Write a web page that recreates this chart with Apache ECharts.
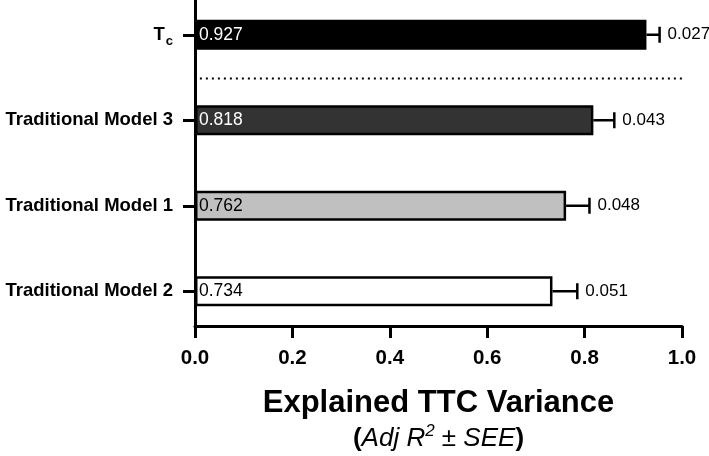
<!DOCTYPE html>
<html>
<head>
<meta charset="utf-8">
<script src="https://cdn.jsdelivr.net/npm/echarts@6/dist/echarts.min.js"></script>
<style>html,body{margin:0;padding:0;background:#fff}#c{width:709px;height:456px}</style>
</head>
<body>
<div id="c"></div>
<script>
// ---- data ----
const categories = ['Tc', 'Traditional Model 3', 'Traditional Model 1', 'Traditional Model 2'];
const values = [0.927, 0.818, 0.762, 0.734];
const errors = [0.027, 0.043, 0.048, 0.051];
const barColors = ['#000000', '#333333', '#c0c0c0', '#ffffff'];
const valueLabelColors = ['#ffffff', '#ffffff', '#000000', '#000000'];
const xMin = 0, xMax = 1.0, xStep = 0.2;
const axisTitle = 'Explained TTC Variance';

const FONT = "'Liberation Sans', Arial, Helvetica, sans-serif";
const chart = echarts.init(document.getElementById('c'), null, {renderer: 'canvas'});

const option = {
  animation: false,
  backgroundColor: '#fff',
  textStyle: {fontFamily: FONT},
  grid: {left: 195, right: 27, top: -8, bottom: 122, outerBoundsMode: 'none', containLabel: false},
  xAxis: {
    type: 'value', min: xMin, max: xMax, interval: xStep,
    offset: -8,
    axisLine: {show: true, lineStyle: {color: '#000', width: 3}},
    axisTick: {show: true, length: 12, lineStyle: {color: '#000', width: 3}},
    axisLabel: {margin: 22, color: '#000', fontWeight: 'bold', fontSize: 20.5, fontFamily: FONT,
      formatter: v => v.toFixed(1)},
    splitLine: {show: false},
    name: '{t|' + axisTitle + '}\n{p|(}{i|Adj R}{sup|2}{n| ± }{i|SEE}{p|)}',
    nameLocation: 'middle', nameGap: 59,
    nameTextStyle: {
      fontFamily: FONT,
      rich: {
        t: {fontSize: 31, fontWeight: 'bold', color: '#000', lineHeight: 36, fontFamily: FONT},
        p: {fontSize: 26, fontWeight: 'bold', color: '#000', lineHeight: 36, fontFamily: FONT},
        i: {fontSize: 26, fontStyle: 'italic', color: '#000', lineHeight: 36, fontFamily: FONT},
        n: {fontSize: 26, color: '#000', lineHeight: 36, fontFamily: FONT},
        sup: {fontSize: 17, fontStyle: 'italic', color: '#000', padding: [0, 0, 15, 0], fontFamily: FONT}
      }
    }
  },
  yAxis: {
    type: 'category', data: categories, inverse: true,
    axisLine: {show: true, lineStyle: {color: '#000', width: 3}},
    axisTick: {show: true, alignWithLabel: true, length: 12, lineStyle: {color: '#000', width: 3}},
    axisLabel: {
      margin: 22, color: '#000', fontWeight: 'bold', fontSize: 18.5, fontFamily: FONT,
      formatter: v => v === 'Tc' ? '{b|T}{s|c}' : v,
      rich: {
        b: {fontSize: 18.5, fontWeight: 'bold', color: '#000', fontFamily: FONT},
        s: {fontSize: 13, fontWeight: 'bold', color: '#000', padding: [14, 0, 0, 1], fontFamily: FONT}
      }
    }
  },
  series: [
    {
      type: 'bar',
      barWidth: 30,
      data: values.map((v, i) => ({
        value: v,
        itemStyle: {color: barColors[i], borderColor: '#000', borderWidth: 2.5},
        label: {color: valueLabelColors[i]}
      })),
      label: {show: true, position: 'insideLeft', distance: 4, fontSize: 17.5, fontFamily: FONT,
        formatter: p => p.value.toFixed(3)},
      z: 2
    },
    {
      type: 'custom',
      data: values.map((v, i) => [i, v, errors[i]]),
      renderItem: (params, api) => {
        const i = api.value(0), v = api.value(1), e = api.value(2);
        const p0 = api.coord([v, i]);
        const p1 = api.coord([v + e, i]);
        return {
          type: 'group',
          children: [
            {type: 'line', shape: {x1: p0[0], y1: p0[1], x2: p1[0], y2: p1[1]},
              style: {stroke: '#000', lineWidth: 2.5}},
            {type: 'line', shape: {x1: p1[0], y1: p1[1] - 8, x2: p1[0], y2: p1[1] + 8},
              style: {stroke: '#000', lineWidth: 2.5}},
            {type: 'text', x: p1[0] + 8, y: p1[1],
              style: {text: e.toFixed(3), fill: '#000', fontSize: 17, fontFamily: FONT,
                verticalAlign: 'middle', align: 'left'}}
          ]
        };
      },
      z: 3
    },
    {
      type: 'custom',
      data: [[0, 1]],
      renderItem: (params, api) => {
        const a = api.coord([0.01, api.value(0)]);
        const b = api.coord([xMax, api.value(1)]);
        const y = (a[1] + b[1]) / 2 + 1;
        return {type: 'line', shape: {x1: a[0], y1: y, x2: b[0], y2: y},
          style: {stroke: '#000', lineWidth: 2, lineDash: [2, 4]}};
      },
      z: 1
    }
  ]
};
chart.setOption(option);
</script>
</body>
</html>
